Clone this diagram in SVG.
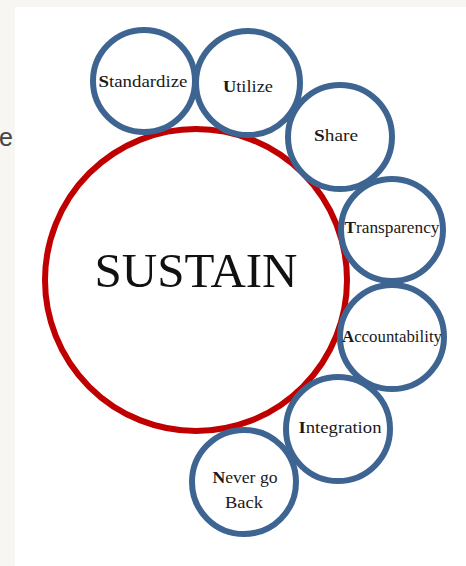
<svg xmlns="http://www.w3.org/2000/svg" width="466" height="566" viewBox="0 0 466 566">
<style>
.ring{fill:#ffffff;stroke:#3e6592;stroke-width:6}
.core{fill:#ffffff;stroke:#c00000;stroke-width:6}
.lbl{font-family:"Liberation Serif","Times New Roman",serif;font-size:17.5px;fill:#1a1a1a;text-anchor:middle}
.ini{font-weight:bold}
</style>
<rect x="0" y="0" width="466" height="566" fill="#f7f6f2"/>
<rect x="15" y="7" width="451" height="559" fill="#ffffff"/>
<text x="-1" y="146" font-family="'Liberation Sans',Arial,sans-serif" font-size="25" fill="#444444">e</text>
<g id="connectors"></g>
<g id="sustain">
<circle class="core" cx="196" cy="280" r="151"/>
<text x="196" y="287" font-family="'Liberation Serif','Times New Roman',serif" font-size="49" fill="#111111" text-anchor="middle" textLength="203" lengthAdjust="spacingAndGlyphs">SUSTAIN</text>
</g>
<g id="standardize">
<circle class="ring" cx="144" cy="81" r="51"/>
<text class="lbl" x="143" y="87" textLength="89" lengthAdjust="spacingAndGlyphs"><tspan class="ini">S</tspan>tandardize</text>
</g>
<g id="utilize">
<circle class="ring" cx="248" cy="83" r="52"/>
<text class="lbl" x="248" y="92" textLength="50" lengthAdjust="spacingAndGlyphs"><tspan class="ini">U</tspan>tilize</text>
</g>
<g id="share">
<circle class="ring" cx="340" cy="137" r="52"/>
<text class="lbl" x="336" y="141" textLength="44" lengthAdjust="spacingAndGlyphs"><tspan class="ini">S</tspan>hare</text>
</g>
<g id="transparency">
<circle class="ring" cx="392" cy="230" r="51"/>
<text class="lbl" x="392" y="233" textLength="95" lengthAdjust="spacingAndGlyphs"><tspan class="ini">T</tspan>ransparency</text>
</g>
<g id="accountability">
<circle class="ring" cx="392" cy="337" r="52"/>
<text class="lbl" x="392" y="342" textLength="100" lengthAdjust="spacingAndGlyphs"><tspan class="ini">A</tspan>ccountability</text>
</g>
<g id="integration">
<circle class="ring" cx="338" cy="429" r="52"/>
<text class="lbl" x="340" y="433" textLength="83" lengthAdjust="spacingAndGlyphs"><tspan class="ini">I</tspan>ntegration</text>
</g>
<g id="never-go-back">
<circle class="ring" cx="244" cy="482" r="52"/>
<text class="lbl" x="245" y="483" textLength="65" lengthAdjust="spacingAndGlyphs"><tspan class="ini">N</tspan>ever go</text>
<text class="lbl" x="244" y="508" textLength="38" lengthAdjust="spacingAndGlyphs">Back</text>
</g>
</svg>
